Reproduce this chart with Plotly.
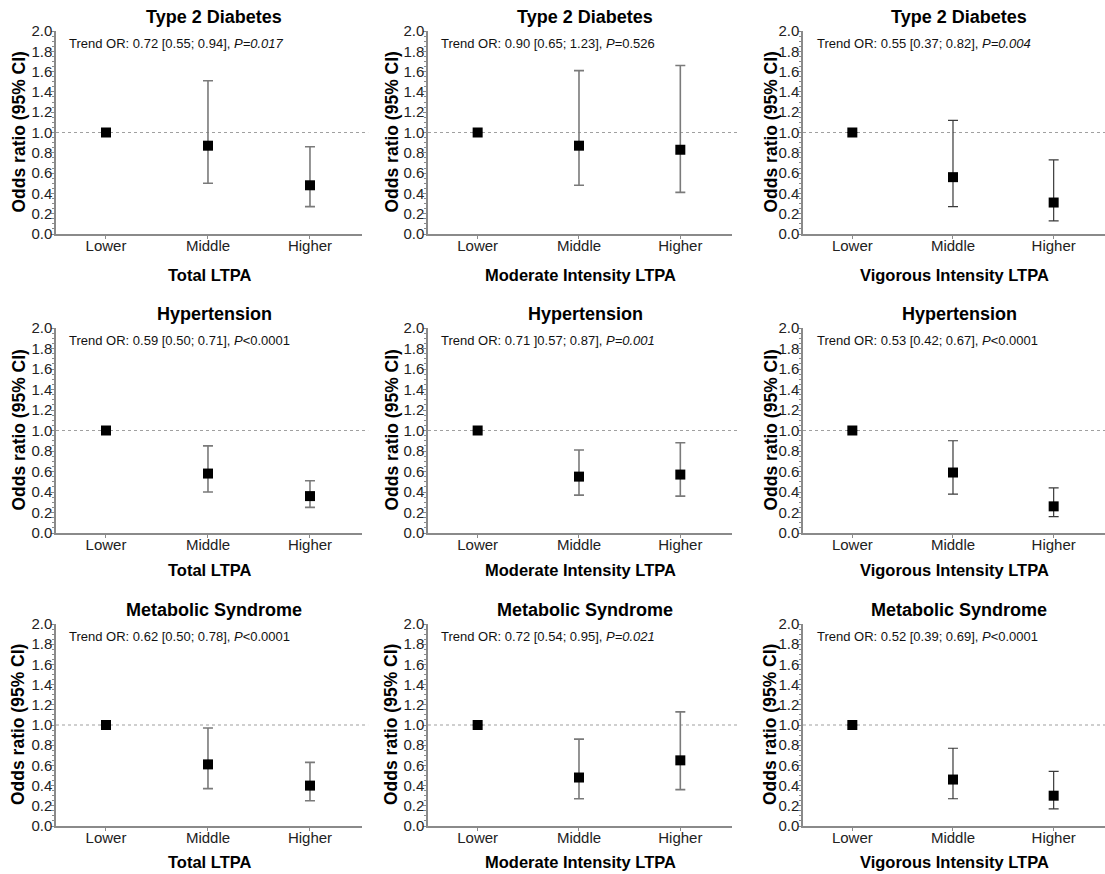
import plotly.graph_objects as go

categories = ["Lower", "Middle", "Higher"]
row_titles = ["Type 2 Diabetes", "Hypertension", "Metabolic Syndrome"]
col_titles = ["Total LTPA", "Moderate Intensity LTPA", "Vigorous Intensity LTPA"]

# odds ratios per panel (row-major: T2D, HTN, MetS x Total, Moderate, Vigorous)
or_t2d_total = [1.0, 0.87, 0.48]
lo_t2d_total = [1.0, 0.50, 0.27]
hi_t2d_total = [1.0, 1.51, 0.86]

or_t2d_mod = [1.0, 0.87, 0.83]
lo_t2d_mod = [1.0, 0.48, 0.41]
hi_t2d_mod = [1.0, 1.61, 1.66]

or_t2d_vig = [1.0, 0.56, 0.31]
lo_t2d_vig = [1.0, 0.27, 0.13]
hi_t2d_vig = [1.0, 1.12, 0.73]

or_htn_total = [1.0, 0.58, 0.36]
lo_htn_total = [1.0, 0.40, 0.25]
hi_htn_total = [1.0, 0.85, 0.51]

or_htn_mod = [1.0, 0.55, 0.57]
lo_htn_mod = [1.0, 0.37, 0.36]
hi_htn_mod = [1.0, 0.81, 0.88]

or_htn_vig = [1.0, 0.59, 0.26]
lo_htn_vig = [1.0, 0.38, 0.16]
hi_htn_vig = [1.0, 0.90, 0.44]

or_mets_total = [1.0, 0.61, 0.40]
lo_mets_total = [1.0, 0.37, 0.25]
hi_mets_total = [1.0, 0.97, 0.63]

or_mets_mod = [1.0, 0.48, 0.65]
lo_mets_mod = [1.0, 0.27, 0.36]
hi_mets_mod = [1.0, 0.86, 1.13]

or_mets_vig = [1.0, 0.46, 0.30]
lo_mets_vig = [1.0, 0.27, 0.17]
hi_mets_vig = [1.0, 0.77, 0.54]

trend_texts = [
    "Trend OR: 0.72 [0.55; 0.94], <i>P=0.017</i>",
    "Trend OR: 0.90 [0.65; 1.23], <i>P</i>=0.526",
    "Trend OR: 0.55 [0.37; 0.82], <i>P=0.004</i>",
    "Trend OR: 0.59 [0.50; 0.71], <i>P</i>&lt;0.0001",
    "Trend OR: 0.71 ]0.57; 0.87], <i>P=0.001</i>",
    "Trend OR: 0.53 [0.42; 0.67], <i>P</i>&lt;0.0001",
    "Trend OR: 0.62 [0.50; 0.78], <i>P</i>&lt;0.0001",
    "Trend OR: 0.72 [0.54; 0.95], <i>P=0.021</i>",
    "Trend OR: 0.52 [0.39; 0.69], <i>P</i>&lt;0.0001",
]

panels = [
    (or_t2d_total, lo_t2d_total, hi_t2d_total),
    (or_t2d_mod, lo_t2d_mod, hi_t2d_mod),
    (or_t2d_vig, lo_t2d_vig, hi_t2d_vig),
    (or_htn_total, lo_htn_total, hi_htn_total),
    (or_htn_mod, lo_htn_mod, hi_htn_mod),
    (or_htn_vig, lo_htn_vig, hi_htn_vig),
    (or_mets_total, lo_mets_total, hi_mets_total),
    (or_mets_mod, lo_mets_mod, hi_mets_mod),
    (or_mets_vig, lo_mets_vig, hi_mets_vig),
]

W, H = 1105, 874
col_px = [(56, 362), (428, 732), (803, 1105)]
row_px = [(31, 234), (328, 533), (624, 826)]
ytitle_shift = [-38, -37, -33]
xtitle_shift = [-41, -37, -36]
trend_shift = [11, 11, 12]
err_colors = ["#7a7a7a", "#7a7a7a", "#3a3a3a"]
err_thick = [1.6, 1.6, 1.2]

FONT = "Arial, Liberation Sans, Helvetica, sans-serif"
fig = go.Figure()
annotations = []
shapes = []

for r in range(3):
    for c in range(3):
        i = r * 3 + c
        k = "" if i == 0 else str(i + 1)
        xa, ya = "x" + k, "y" + k
        orv, lo, hi = panels[i]
        xs = list(range(len(categories)))
        fig.add_trace(go.Scatter(
            x=xs, y=orv, mode="markers", xaxis=xa, yaxis=ya,
            marker=dict(symbol="square", size=10, color="black"),
            error_y=dict(type="data", symmetric=False,
                         array=[h - o for h, o in zip(hi, orv)],
                         arrayminus=[o - l for o, l in zip(orv, lo)],
                         color=err_colors[c], thickness=err_thick[c], width=5),
            showlegend=False, hoverinfo="skip"))
        x0, x1 = col_px[c]
        t, b = row_px[r]
        fig.layout["xaxis" + k] = dict(
            domain=[x0 / W, x1 / W], anchor=ya, range=[-0.49, 2.51], automargin=False,
            tickmode="array", tickvals=xs, ticktext=categories,
            showline=True, linecolor="#8a8a8a", linewidth=1.5,
            ticks="outside", ticklen=3, tickcolor="#8a8a8a", tickwidth=1,
            ticklabelstandoff=-6,
            showgrid=False, zeroline=False,
            tickfont=dict(family=FONT, size=15, color="#222"), fixedrange=True)
        fig.layout["yaxis" + k] = dict(
            domain=[1 - b / H, 1 - t / H], anchor=xa, range=[0, 2.0], automargin=False,
            tickmode="linear", tick0=0, dtick=0.2, tickformat=".1f",
            showline=True, linecolor="#8a8a8a", linewidth=1.5,
            ticks="outside", ticklen=3, tickcolor="#8a8a8a", tickwidth=1,
            ticklabelstandoff=-4,
            minor=dict(dtick=0.05, ticks="outside", ticklen=2, tickcolor="#8a8a8a", showgrid=False),
            showgrid=False, zeroline=False,
            tickfont=dict(family=FONT, size=15, color="#222"), fixedrange=True)
        shapes.append(dict(type="line", xref=xa + " domain", yref=ya, x0=0, x1=1.02, y0=1, y1=1,
                           line=dict(color="#a0a0a0", width=1.2, dash="3px,3px"), layer="below"))
        annotations.append(dict(text="<b>" + row_titles[r] + "</b>", xref=xa + " domain", yref=ya + " domain",
                                x=0.5, y=1, xshift=5, yshift=14, showarrow=False,
                                xanchor="center", yanchor="middle",
                                font=dict(family=FONT, size=18, color="black")))
        annotations.append(dict(text=trend_texts[i], xref=xa + " domain", yref=ya + " domain",
                                x=0, y=1, xshift=trend_shift[c], yshift=-12, showarrow=False,
                                xanchor="left", yanchor="middle",
                                font=dict(family=FONT, size=13, color="#111")))
        annotations.append(dict(text="<b>" + col_titles[c] + "</b>", xref=xa + " domain", yref=ya + " domain",
                                x=0.5, y=0, yshift=xtitle_shift[r], showarrow=False,
                                xanchor="center", yanchor="middle",
                                font=dict(family=FONT, size=16.5, color="black")))
        annotations.append(dict(text="<b>Odds ratio (95% CI)</b>", xref=xa + " domain", yref=ya + " domain",
                                x=0, y=0.5, xshift=ytitle_shift[c], textangle=-90, showarrow=False,
                                xanchor="center", yanchor="middle",
                                font=dict(family=FONT, size=17.5, color="black")))

fig.update_layout(template="none", width=W, height=H, autosize=False,
                  margin=dict(l=0, r=0, t=0, b=0, pad=0, autoexpand=False),
                  plot_bgcolor="white", paper_bgcolor="white",
                  annotations=annotations, shapes=shapes,
                  font=dict(family=FONT))
fig.write_html("out.html", config={"displayModeBar": False},
               post_script="document.body.style.margin='0';document.body.style.overflow='hidden';")
